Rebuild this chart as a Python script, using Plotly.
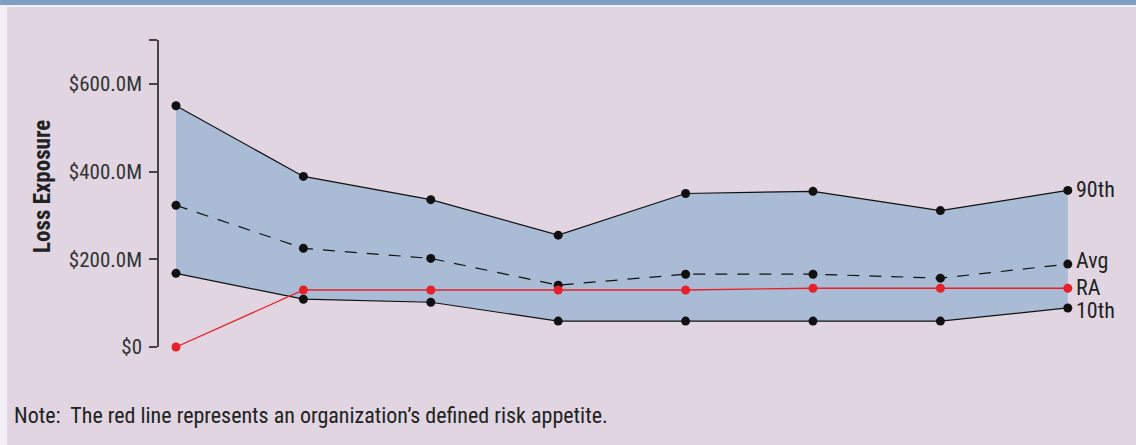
import plotly.graph_objects as go

# Loss exposure by period, in $M
periods = [0, 1, 2, 3, 4, 5, 6, 7]
p90 = [550, 389, 336, 255, 350, 355, 311, 357]
avg = [323, 225, 202, 141, 166, 166, 157, 189]
p10 = [168, 109, 102, 59, 59, 59, 59, 89]
risk_appetite = [0, 130, 130, 130, 130, 134, 134, 134]

tick_vals = [0, 200, 400, 600, 700]
tick_text = ["$0", "$200.0M", "$400.0M", "$600.0M", ""]

series_labels = ["90th", "Avg", "RA", "10th"]

BG = "#e0d5e1"
BAND = "#aabcd5"
RED = "#e8202a"
FONT = "Liberation Sans Narrow, Arial Narrow, Roboto Condensed, sans-serif"

fig = go.Figure()

# shaded band between 10th and 90th percentiles
fig.add_trace(go.Scatter(x=periods, y=p10, mode="lines", line=dict(width=0),
                         hoverinfo="skip", showlegend=False))
fig.add_trace(go.Scatter(x=periods, y=p90, mode="lines", line=dict(width=0),
                         fill="tonexty", fillcolor=BAND, hoverinfo="skip", showlegend=False))

marker = dict(size=9, color="#111111")
fig.add_trace(go.Scatter(x=periods, y=p90, mode="lines+markers",
                         line=dict(color="#111111", width=1.2), marker=marker, showlegend=False))
fig.add_trace(go.Scatter(x=periods, y=p10, mode="lines+markers",
                         line=dict(color="#111111", width=1.2), marker=marker, showlegend=False))
fig.add_trace(go.Scatter(x=periods, y=avg, mode="lines+markers",
                         line=dict(color="#111111", width=1.2, dash="12px,10px"),
                         marker=marker, showlegend=False))
fig.add_trace(go.Scatter(x=periods, y=risk_appetite, mode="lines+markers",
                         line=dict(color=RED, width=1.3),
                         marker=dict(size=9, color=RED), showlegend=False, cliponaxis=False))

# end-of-line labels
label_y = [p90[-1] + 2, avg[-1] + 8, risk_appetite[-1] + 2, p10[-1] - 6]
for name, yv in zip(series_labels, label_y):
    fig.add_annotation(x=periods[-1], y=yv, text=name, xref="x", yref="y",
                       xanchor="left", yanchor="middle", xshift=6, showarrow=False,
                       font=dict(family=FONT, size=22, color="#222222"))

# y-axis title
fig.add_annotation(x=42, y=187, xref="paper", yref="paper", text="<b>Loss Exposure</b>",
                   textangle=-90, showarrow=False, xanchor="center", yanchor="middle",
                   font=dict(family=FONT, size=23, color="#222222"))

# footnote
fig.add_annotation(x=12, y=415, xref="paper", yref="paper",
                   text="Note:  The red line represents an organization\u2019s defined risk appetite.",
                   showarrow=False, xanchor="left", yanchor="middle",
                   font=dict(family=FONT, size=22, color="#222222"))

W, H = 1136, 445
L, R, T, B = 159, 60, 40, 98
px_per_unit = 127.4
x0 = -(176 - L) / px_per_unit
x1 = x0 + (W - L - R) / px_per_unit

# convert the pixel-positioned annotations to paper fractions
for ann in fig.layout.annotations:
    if ann.xref == "paper":
        ann.x = (ann.x - L) / (W - L - R)
        ann.y = 1 - (ann.y - T) / (H - T - B)

fig.update_layout(
    width=W, height=H,
    margin=dict(l=L, r=R, t=T, b=B),
    paper_bgcolor=BG, plot_bgcolor=BG,
    xaxis=dict(range=[x0, x1], visible=False, fixedrange=True),
    yaxis=dict(range=[0, 700], tickvals=tick_vals, ticktext=tick_text,
               showgrid=False, zeroline=False, showline=True, linecolor="#444444",
               linewidth=1.5, ticks="outside", ticklen=8, tickwidth=1.5,
               tickcolor="#444444", ticklabelstandoff=3,
               tickfont=dict(family=FONT, size=21, color="#333333")),
    shapes=[
        dict(type="rect", xref="paper", yref="paper", x0=-L / (W - L - R), x1=1 + R / (W - L - R),
             y0=1 + (T - 5) / (H - T - B), y1=1 + T / (H - T - B),
             fillcolor="#7f9ec4", line=dict(width=0), layer="above"),
        dict(type="rect", xref="paper", yref="paper", x0=-L / (W - L - R), x1=1 + R / (W - L - R),
             y0=1 + (T - 7) / (H - T - B), y1=1 + (T - 5) / (H - T - B),
             fillcolor="#f2f0f6", line=dict(width=0), layer="above"),
        dict(type="rect", xref="paper", yref="paper", x0=-L / (W - L - R), x1=(7 - L) / (W - L - R),
             y0=-B / (H - T - B), y1=1 + (T - 5) / (H - T - B),
             fillcolor="#f2f0f6", line=dict(width=0), layer="above"),
    ],
)

fig.write_html("out.html")
